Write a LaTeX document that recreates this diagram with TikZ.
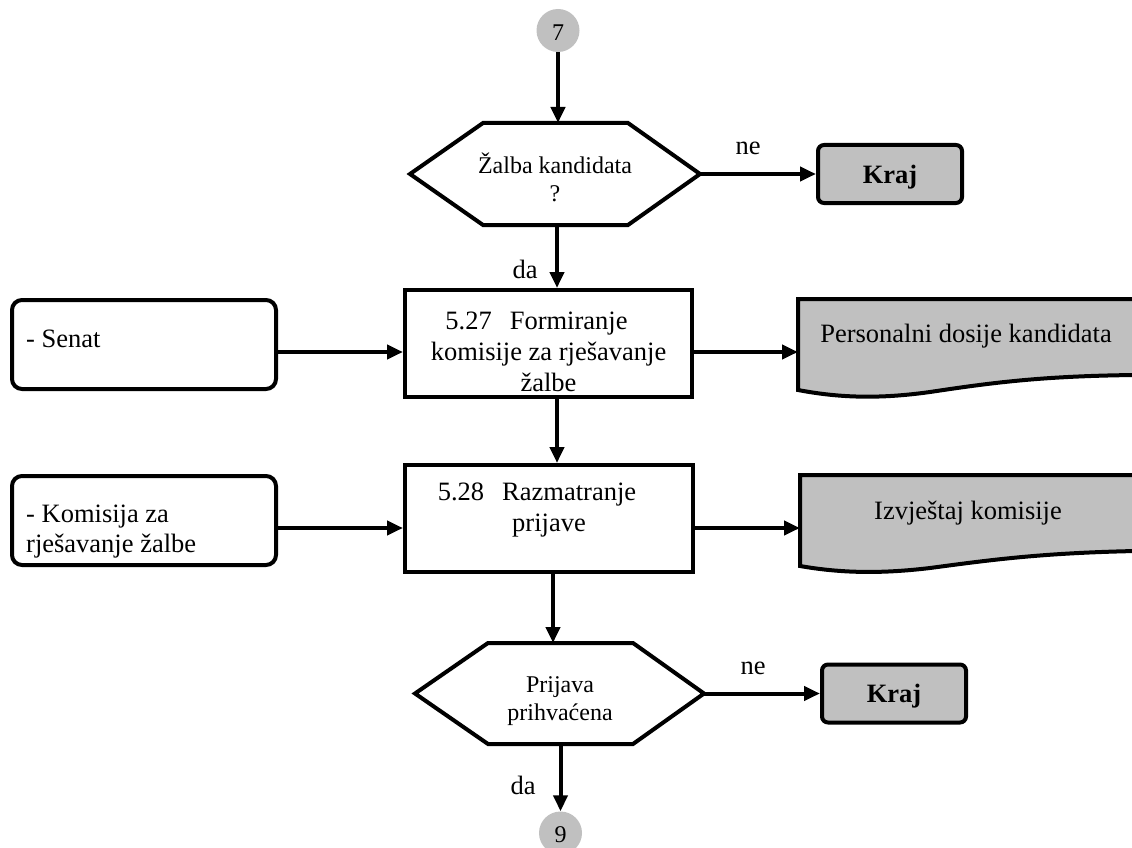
\documentclass[tikz,border=0pt]{standalone}
\usepackage{fontspec}
\setmainfont{Liberation Serif}
\usetikzlibrary{arrows.meta}
\definecolor{fillg}{HTML}{C0C0C0}
\begin{document}
\begin{tikzpicture}[x=1pt,y=-1pt,
  arr/.style={line width=4pt,-{Triangle[length=16pt,width=14pt]}},
  proc/.style={draw,line width=4pt,rectangle,inner sep=0pt},
  actor/.style={draw,line width=4pt,rectangle,rounded corners=10pt,inner sep=0pt},
  endbox/.style={draw,line width=4pt,fill=fillg,rounded corners=6pt,inner sep=0pt,
    minimum width=144pt,minimum height=58pt,font=\fontsize{26.5}{31}\selectfont\bfseries,
    text height=18pt,text depth=0pt},
  conn/.style={circle,fill=fillg,minimum size=43pt,inner sep=0pt,font=\fontsize{24}{28}\selectfont,text depth=0pt},
  carrier/.style={inner sep=0pt,outer sep=0pt},
  txt/.style={font=\fontsize{26.5}{31}\selectfont,anchor=base,inner sep=0pt},
  stxt/.style={font=\fontsize{24}{28}\selectfont,anchor=base,inner sep=0pt},
  dec/.style={draw,line width=4pt,line join=miter}
]
\useasboundingbox (0,0) rectangle (1132,848);

% connector 7
\node[conn,text height=20.5pt] (c7) at (558,30.5) {7};

% decision 1
\node[carrier,minimum width=290pt,minimum height=102pt] (h1) at (555,174) {};
\draw[dec] (h1.west) -- ([xshift=73pt]h1.north west) -- ([xshift=-72pt]h1.north east)
  -- (h1.east) -- ([xshift=-72pt]h1.south east) -- ([xshift=73pt]h1.south west) -- cycle;
\node[stxt,anchor=north,align=center] (h1txt) at (555,152.4) {\strut Žalba kandidata\\\strut ?};

\draw[arr] (c7) -- (c7 |- h1.north);

% end 1
\node[endbox] (k1) at (890,174) {Kraj};
\draw[arr] (h1.east) -- (k1.west);
\node[txt] (ne1) at (748,154) {ne};

% process 5.27
\node[proc,minimum width=287pt,minimum height=107pt] (p27) at (548.5,343.5) {};
\node[txt,anchor=north,align=center] (p27txt) at (548.5,307.3)
  {\strut 5.27\hspace{18pt}Formiranje\hspace*{24pt}\\\strut komisije za rješavanje\\\strut žalbe};
\draw[arr] ([xshift=2pt]h1.south) -- ([xshift=2pt]h1.south |- p27.north);
\node[txt] (da1) at (525,278) {da};

% actor Senat
\node[actor,minimum width=264pt,minimum height=89pt] (sen) at (144,344.5) {};
\node[txt,anchor=base west] (sentxt) at (26,347) {- Senat};
\draw[arr] ([yshift=-7.5pt]sen.east) -- ([yshift=-7.5pt]sen.east -| p27.west);

% document 1
\node[carrier,minimum width=334pt,minimum height=91pt,anchor=north west] (d1) at (798,299) {};
\fill[fillg] (d1.north west) -- (1134,299) -- (1134,375) .. controls (1040,376) and (990,383) .. (930,392)
  .. controls (880,399) and (840,398) .. (d1.south west) -- cycle;
\draw[dec] (1136,299) -- (d1.north west) -- (d1.south west) .. controls (840,398) and (880,399) .. (930,392)
  .. controls (990,383) and (1040,376) .. (1136,375);
\node[txt] (d1txt) at (966,342) {Personalni dosije kandidata};
\draw[arr] ([yshift=-8.5pt]p27.east) -- ([yshift=-8.5pt]p27.east -| d1.west);

% process 5.28
\node[proc,minimum width=288pt,minimum height=107pt] (p28) at (549,518.5) {};
\node[txt,anchor=north,align=center] (p28txt) at (549,478.3)
  {\strut 5.28\hspace{18pt}Razmatranje\hspace*{24pt}\\\strut prijave};
\draw[arr] ([xshift=8.5pt]p27.south) -- ([xshift=8.5pt]p27.south |- p28.north);

% actor Komisija
\node[actor,minimum width=264pt,minimum height=89pt] (kom) at (144,520.5) {};
\node[txt,font=\fontsize{26.5}{30}\selectfont,anchor=north west,align=left] (komtxt) at (26,501)
  {\strut - Komisija za\\\strut rješavanje žalbe};
\draw[arr] ([yshift=-7.5pt]kom.east) -- ([yshift=-7.5pt]kom.east -| p28.west);

% document 2
\node[carrier,minimum width=332pt,minimum height=91pt,anchor=north west] (d2) at (800,475) {};
\fill[fillg] (d2.north west) -- (1134,475) -- (1134,551) .. controls (1040,553) and (990,560) .. (930,568)
  .. controls (880,574) and (840,573) .. (d2.south west) -- cycle;
\draw[dec] (1136,475) -- (d2.north west) -- (d2.south west) .. controls (840,573) and (880,574) .. (930,568)
  .. controls (990,560) and (1040,553) .. (1136,551);
\node[txt] (d2txt) at (968,519) {Izvještaj komisije};
\draw[arr] ([yshift=-9.5pt]p28.east) -- ([yshift=-9.5pt]p28.east -| d2.west);

% decision 2
\node[carrier,minimum width=289pt,minimum height=101pt] (h2) at (559.5,693.5) {};
\draw[dec] (h2.west) -- ([xshift=73pt]h2.north west) -- ([xshift=-71pt]h2.north east)
  -- (h2.east) -- ([xshift=-71pt]h2.south east) -- ([xshift=73pt]h2.south west) -- cycle;
\node[stxt,anchor=north,align=center] (h2txt) at (560,672.4) {\strut Prijava\\\strut prihvaćena};
\draw[arr] ([xshift=4pt]p28.south) -- ([xshift=4pt]p28.south |- h2.north);

% end 2
\node[endbox] (k2) at (894,693.5) {Kraj};
\draw[arr] (h2.east) -- (k2.west);
\node[txt] (ne2) at (753,674) {ne};

% connector 9
\node[conn,text height=18pt] (c9) at (560.5,833) {9};
\draw[arr] (h2.south -| c9) -- (c9.north);
\node[txt] (da2) at (523,794) {da};
\end{tikzpicture}
\end{document}
